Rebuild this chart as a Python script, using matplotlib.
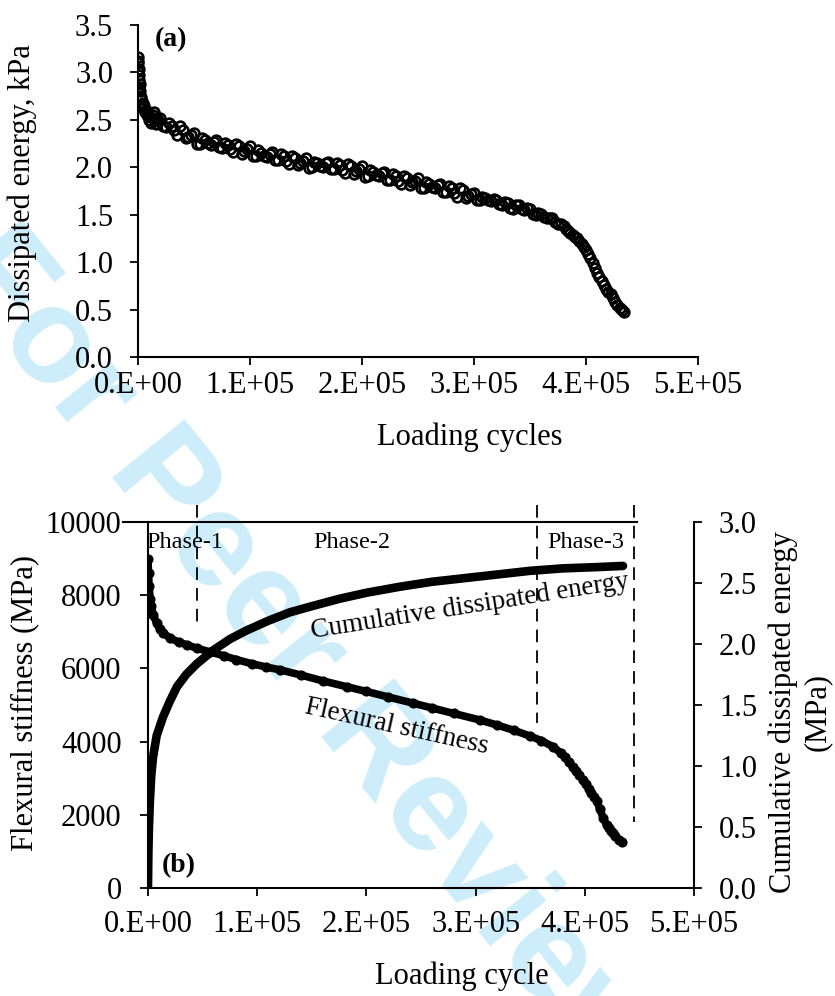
import matplotlib
matplotlib.use('Agg')
import matplotlib.pyplot as plt

plt.rcParams['font.family'] = ['Liberation Serif', 'DejaVu Serif']

# ---------------- data ----------------
# (a) dissipated energy per cycle (kPa) vs loading cycles -- first reading pass
de_cycles_k = [0, 0.3, 0.6, 1, 1.5, 2, 3, 4, 5, 7, 9, 11, 13, 15, 17,
               20, 25, 30, 35, 40, 45, 50, 55, 60, 65, 70, 75, 80, 85, 90, 95,
               100, 105, 110, 115, 120, 125, 130, 135, 140, 145, 150, 155, 160,
               165, 170, 175, 180, 185, 190, 195, 200, 205, 210, 215, 220, 225,
               230, 235, 240, 245, 250, 255, 260, 265, 270, 275, 280, 285, 290,
               295, 300, 305, 310, 315, 320, 325, 330, 335, 340, 345, 350, 355,
               360, 365, 370, 375, 380, 382, 384, 386, 388, 390, 392, 394, 396,
               398, 400, 402, 404, 406, 408, 410, 412, 414, 416, 418, 420, 422,
               424, 426, 428, 430, 432, 434]
de_values = [3.16, 3.10, 3.04, 2.97, 2.88, 2.80, 2.74, 2.68, 2.65, 2.60, 2.57,
             2.53, 2.55, 2.50, 2.52,
             2.52, 2.42, 2.44, 2.34, 2.39, 2.32, 2.36, 2.25, 2.29, 2.24, 2.29,
             2.20, 2.24, 2.16, 2.22, 2.17, 2.22, 2.12, 2.15, 2.11, 2.16, 2.08,
             2.12, 2.03, 2.10, 2.05, 2.10, 2.00, 2.04, 2.00, 2.06, 1.98, 2.02,
             1.94, 2.01, 1.96, 2.01, 1.91, 1.95, 1.91, 1.95, 1.87, 1.91, 1.82,
             1.89, 1.84, 1.89, 1.78, 1.82, 1.78, 1.82, 1.74, 1.78, 1.69, 1.76,
             1.70, 1.73, 1.66, 1.68, 1.64, 1.66, 1.60, 1.62, 1.56, 1.60, 1.55,
             1.56, 1.50, 1.51, 1.47, 1.46, 1.40, 1.38, 1.35, 1.33, 1.31, 1.29,
             1.27, 1.25, 1.22, 1.19, 1.16, 1.13, 1.09, 1.04, 0.99, 0.94, 0.89,
             0.84, 0.80, 0.76, 0.72, 0.69, 0.66, 0.62, 0.58, 0.55, 0.52, 0.49,
             0.47]

# (a) second reading pass (points between the first ones)
de_cycles2_k = [0.1, 0.4, 0.8, 1.2, 2.5, 3.5, 4.5, 6, 8, 10, 12, 14, 16, 18,
                22.5, 27.5, 32.5, 37.5, 42.5, 47.5, 52.5, 57.5, 62.5, 67.5,
                72.5, 77.5, 82.5, 87.5, 92.5, 97.5, 102.5, 107.5, 112.5, 117.5,
                122.5, 127.5, 132.5, 137.5, 142.5, 147.5, 152.5, 157.5, 162.5,
                167.5, 172.5, 177.5, 182.5, 187.5, 192.5, 197.5, 202.5, 207.5,
                212.5, 217.5, 222.5, 227.5, 232.5, 237.5, 242.5, 247.5, 252.5,
                257.5, 262.5, 267.5, 272.5, 277.5, 282.5, 287.5, 292.5, 297.5,
                302.5, 307.5, 312.5, 317.5, 322.5, 327.5, 332.5, 337.5, 342.5,
                347.5, 352.5, 357.5, 362.5, 367.5, 372.5, 377.5]
de_values2 = [3.12, 3.02, 2.92, 2.85, 2.72, 2.66, 2.62, 2.58, 2.55, 2.50, 2.47,
              2.58, 2.46, 2.49,
              2.44, 2.47, 2.39, 2.43, 2.31, 2.34, 2.25, 2.31, 2.26, 2.27, 2.21,
              2.26, 2.19, 2.25, 2.14, 2.19, 2.12, 2.18, 2.12, 2.14, 2.08, 2.14,
              2.07, 2.12, 2.02, 2.07, 1.99, 2.06, 2.01, 2.04, 1.98, 2.04, 1.97,
              2.03, 1.93, 1.98, 1.90, 1.97, 1.92, 1.94, 1.87, 1.93, 1.86, 1.91,
              1.81, 1.86, 1.78, 1.84, 1.79, 1.81, 1.74, 1.80, 1.73, 1.78, 1.68,
              1.72, 1.66, 1.69, 1.65, 1.67, 1.61, 1.63, 1.57, 1.60, 1.56, 1.57,
              1.51, 1.52, 1.48, 1.47, 1.42, 1.40]

# (b) flexural stiffness (MPa) vs loading cycles
fs_cycles_k = [0, 0.5, 1, 2, 3, 5, 8, 11, 14, 20, 28, 36, 45, 57, 70, 81, 95,
               108, 121, 140, 160, 182, 200, 220, 243, 260, 280, 304, 320, 335,
               350, 360, 371, 378, 382, 386, 389, 392, 395, 398, 401, 404, 406,
               408, 411, 414, 417, 420, 422, 424, 426, 428, 431, 434]
fs_values = [9000, 8600, 8250, 7900, 7700, 7450, 7230, 7080, 6970, 6830, 6720,
             6640, 6550, 6450, 6340, 6240, 6130, 6040, 5960, 5820, 5660, 5500,
             5370, 5220, 5050, 4920, 4770, 4590, 4450, 4310, 4150, 4030, 3860,
             3690, 3570, 3430, 3310, 3200, 3080, 2960, 2830, 2700, 2600, 2500,
             2380, 2150, 1900, 1720, 1640, 1560, 1490, 1420, 1320, 1250]

# (b) cumulative dissipated energy (MPa) vs loading cycles
cde_cycles_k = [0, 0.4, 0.9, 1.8, 3, 4.6, 8, 13.7, 20, 26.6, 35, 45, 60, 75,
                90, 110, 130, 150, 175, 200, 231, 260, 290, 320, 350, 380, 410,
                435]
cde_values = [0, 0.30, 0.50, 0.72, 0.92, 1.07, 1.25, 1.40, 1.53, 1.65, 1.75,
              1.84, 1.95, 2.04, 2.11, 2.19, 2.26, 2.31, 2.37, 2.42, 2.47, 2.51,
              2.54, 2.57, 2.60, 2.62, 2.63, 2.64]

phase_bounds_k = [45, 356, 445]
phase_names = ['Phase-1', 'Phase-2', 'Phase-3']

x_ticks = [0, 1e5, 2e5, 3e5, 4e5, 5e5]
x_ticklabels = ['0.E+00', '1.E+05', '2.E+05', '3.E+05', '4.E+05', '5.E+05']
de_ticks = [0.0, 0.5, 1.0, 1.5, 2.0, 2.5, 3.0, 3.5]
fs_ticks = [0, 2000, 4000, 6000, 8000, 10000]
cde_ticks = [0.0, 0.5, 1.0, 1.5, 2.0, 2.5, 3.0]

k = 1000.0
de_x = [c * k for c in de_cycles_k]
de_x2 = [c * k for c in de_cycles2_k]
fs_x = [c * k for c in fs_cycles_k]
cde_x = [c * k for c in cde_cycles_k]

# ---------------- figure ----------------
fig = plt.figure(figsize=(8.35, 9.96), dpi=100)

fig.text(0.365, 0.337, 'For Peer Review', rotation=-51, rotation_mode='anchor',
         ha='center', va='center', fontsize=98, fontweight='bold',
         family=['Liberation Sans', 'DejaVu Sans'], color='#cdedfb', zorder=-10)

TS = 22

# ---- (a) ----
ax1 = fig.add_axes([0.1653, 0.6416, 0.6706, 0.3333])
ax1.patch.set_alpha(0)
mk = dict(linestyle='none', marker='o', markersize=7, markerfacecolor='none',
          markeredgecolor='black', markeredgewidth=1.9)
ax1.plot(de_x, de_values, **mk)
ax1.plot(de_x2, de_values2, **mk)
ax1.set_xlim(0, 5e5)
ax1.set_ylim(0, 3.5)
ax1.set_xticks(x_ticks)
ax1.set_xticklabels(x_ticklabels)
ax1.set_yticks(de_ticks)
ax1.set_yticklabels([f'{v:.1f}' for v in de_ticks])
for s in ['top', 'right']:
    ax1.spines[s].set_visible(False)
for s in ['left', 'bottom']:
    ax1.spines[s].set_linewidth(1.5)
ax1.tick_params(axis='both', direction='out', length=6, width=1.3, labelsize=TS)
ax1.tick_params(axis='y', pad=12)
ax1.tick_params(axis='x', pad=4)
ax1.text(0.03, 0.955, '(a)', transform=ax1.transAxes, fontsize=20,
         fontweight='bold', ha='left', va='center')
fig.text(470 / 835, 1 - 437 / 996, 'Loading cycles', fontsize=TS,
         ha='center', va='center')
fig.text(22 / 835, 1 - 183 / 996, 'Dissipated energy, kPa', fontsize=TS,
         rotation=90, ha='center', va='center')

# ---- (b) ----
ax2 = fig.add_axes([0.1772, 0.1084, 0.6539, 0.3675])
ax2.patch.set_alpha(0)
ax3 = ax2.twinx()
ax3.patch.set_alpha(0)

ax3.plot(cde_x, cde_values, color='black', linewidth=6.2, solid_capstyle='round')
ax2.plot(fs_x, fs_values, color='black', linewidth=5.5, marker='o',
         markersize=5.5, markerfacecolor='none', markeredgecolor='black',
         markeredgewidth=1.8, solid_capstyle='round')

ax2.set_xlim(0, 5e5)
ax2.set_ylim(0, 10000)
ax3.set_ylim(0, 3.0)
ax2.set_xticks(x_ticks)
ax2.set_xticklabels(x_ticklabels)
ax2.set_yticks(fs_ticks)
ax2.set_yticklabels([str(v) for v in fs_ticks])
ax3.set_yticks(cde_ticks)
ax3.set_yticklabels([f'{v:.1f}' for v in cde_ticks])

for s in ['top', 'right']:
    ax2.spines[s].set_visible(False)
for s in ['top', 'left', 'bottom']:
    ax3.spines[s].set_visible(False)
for s in ['left', 'bottom']:
    ax2.spines[s].set_linewidth(1.5)
ax3.spines['right'].set_linewidth(1.5)

ax2.tick_params(axis='both', direction='out', length=6, width=1.3, labelsize=TS)
ax2.tick_params(axis='y', pad=13)
ax2.tick_params(axis='x', pad=10)
ax3.tick_params(axis='y', direction='out', length=6, width=1.3, labelsize=TS,
                pad=12)

# top frame line
ax2.plot([-23e3, 448e3], [10000, 10000], color='black', linewidth=1.5,
         clip_on=False)
# phase boundaries
dash_bottoms = [7186, 4508, 1803]
for xb, yb in zip(phase_bounds_k, dash_bottoms):
    ax2.plot([xb * k, xb * k], [10464, yb], color='black', linewidth=1.3,
             linestyle=(0, (7, 4.5)), clip_on=False)

phase_label_x = [185, 352, 586]
for name, px in zip(phase_names, phase_label_x):
    fig.text(px / 835, 1 - 543 / 996, name, fontsize=17.5, ha='center',
             va='center')

fig.text(470 / 835, 1 - 606 / 996, 'Cumulative dissipated energy', fontsize=19.5,
         rotation=9, ha='center', va='center', rotation_mode='anchor')
fig.text(397 / 835, 1 - 727 / 996, 'Flexural stiffness', fontsize=19.5,
         rotation=-12.5, ha='center', va='center', rotation_mode='anchor')

ax2.text(0.025, 0.06, '(b)', transform=ax2.transAxes, fontsize=20,
         fontweight='bold', ha='left', va='center')

fig.text(462 / 835, 1 - 976 / 996, 'Loading cycle', fontsize=TS,
         ha='center', va='center')
fig.text(25 / 835, 1 - 703 / 996, 'Flexural stiffness (MPa)', fontsize=TS,
         rotation=90, ha='center', va='center')
fig.text(800 / 835, 1 - 712 / 996, 'Cumulative dissipated energy\n(MPa)',
         fontsize=TS, rotation=90, ha='center', va='center',
         multialignment='center', linespacing=1.2)

fig.savefig('out.png', dpi=100)
